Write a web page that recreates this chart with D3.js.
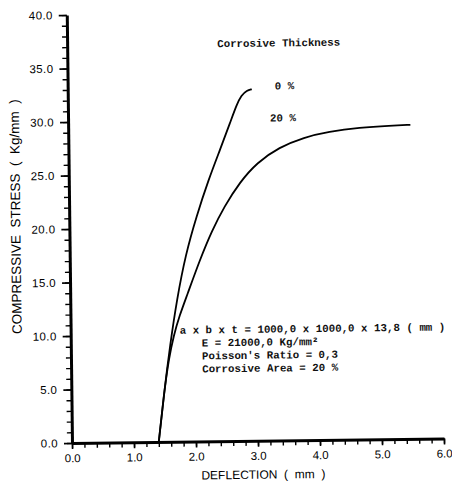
<!DOCTYPE html>
<html>
<head>
<meta charset="utf-8">
<script src="https://cdn.jsdelivr.net/npm/d3@7"></script>
<style>
  body { margin: 0; background: #fff; }
  .axis text { font-family: "Liberation Sans", Arial, sans-serif; font-size: 11.5px; fill: #000; }
  .title { font-family: "Liberation Sans", Arial, sans-serif; white-space: pre; fill: #000; }
  .mono { font-family: "Liberation Mono", "Courier New", monospace; font-size: 10.8px; font-weight: bold; fill: #111; white-space: pre; }
</style>
</head>
<body>
<div class="chart"></div>
<script>
// values
const xTicks = [0, 1, 2, 3, 4, 5, 6];
const yTicks = [0, 5, 10, 15, 20, 25, 30, 35, 40];

const defl0 = [1.40, 1.50, 1.60, 1.72, 1.87, 2.05, 2.25, 2.45, 2.62, 2.72, 2.80, 2.89, 2.97];
const stress0 = [0, 4.8, 9.0, 13.3, 17.5, 21.0, 24.4, 27.3, 29.85, 31.4, 32.3, 32.75, 32.85];

const defl20 = [1.40, 1.50, 1.58, 1.66, 1.76, 1.88, 2.10, 2.30, 2.50, 2.76, 3.04, 3.40, 3.80, 4.20, 4.70, 5.20, 5.52];
const stress20 = [0, 4.8, 7.8, 9.9, 11.8, 13.6, 17.0, 19.7, 21.9, 24.2, 26.0, 27.4, 28.3, 28.8, 29.15, 29.3, 29.35];

const seriesLabels = ["0 %", "20 %"];
const notes = [
  "a x b x t = 1000,0 x 1000,0 x 13,8 ( mm )",
  "E = 21000,0 Kg/mm\u00b2",
  "Poisson's Ratio = 0,3",
  "Corrosive Area = 20 %"
];

const W = 452, H = 484;
const svg = d3.select('.chart').append('svg')
    .attr('width', W)
    .attr('height', H);

const x = d3.scaleLinear().domain([0, 6]).range([72, 444]);
const y = d3.scaleLinear().domain([0, 40]).range([443, 15]);

// the scan is slightly tilted
const g = svg.append('g')
    .attr('transform', `rotate(-0.7, ${x(0)}, ${y(0)})`);

// minor ticks
g.append('g')
    .attr('transform', `translate(${x(0)},0)`)
    .call(d3.axisLeft(y).ticks(40).tickSize(5).tickFormat(''))
    .call(a => a.select('.domain').remove())
    .selectAll('line').attr('stroke-width', 1.4);

g.append('g')
    .attr('transform', `translate(0,${y(0)})`)
    .call(d3.axisBottom(x).ticks(30).tickSize(5).tickFormat(''))
    .call(a => a.select('.domain').remove())
    .selectAll('line').attr('stroke-width', 1.4);

// major ticks + labels
const yAxis = g.append('g')
    .attr('class', 'axis')
    .attr('transform', `translate(${x(0)},0)`)
    .call(d3.axisLeft(y).tickValues(yTicks).tickSize(8).tickSizeOuter(0).tickPadding(6).tickFormat(d3.format('.1f')));
yAxis.select('.domain').attr('stroke-width', 3);
yAxis.selectAll('.tick line').attr('stroke-width', 1.6);
yAxis.selectAll('.tick text').attr('font-size', '12px').attr('letter-spacing', '0.4px');

const xAxis = g.append('g')
    .attr('class', 'axis')
    .attr('transform', `translate(0,${y(0)})`)
    .call(d3.axisBottom(x).tickValues(xTicks).tickSize(6).tickSizeOuter(0).tickPadding(5).tickFormat(d3.format('.1f')));
xAxis.select('.domain').attr('stroke-width', 3);
xAxis.selectAll('.tick line').attr('stroke-width', 1.6);

// axis titles
g.append('text')
    .attr('class', 'title')
    .attr('x', 263)
    .attr('y', 481)
    .attr('text-anchor', 'middle')
    .attr('font-size', '12px')
    .text('DEFLECTION  (  mm  )');

g.append('text')
    .attr('class', 'title')
    .attr('transform', 'translate(23,216) rotate(-90)')
    .attr('text-anchor', 'middle')
    .attr('font-size', '13.5px')
    .text('COMPRESSIVE  STRESS  (  Kg/mm  )');

// curves
const line = d3.line()
    .x(d => x(d[0]))
    .y(d => y(d[1]))
    .curve(d3.curveBasis);

const curves = [d3.zip(defl0, stress0), d3.zip(defl20, stress20)];

g.selectAll('path.curve')
    .data(curves)
    .enter()
    .append('path')
    .attr('class', 'curve')
    .attr('d', line)
    .attr('fill', 'none')
    .attr('stroke', '#000')
    .attr('stroke-width', 1.8);

// labels
g.append('text')
    .attr('class', 'mono')
    .attr('x', 222)
    .attr('y', 49)
    .text('Corrosive Thickness');

g.selectAll('text.series')
    .data(seriesLabels)
    .enter()
    .append('text')
    .attr('class', 'mono series')
    .attr('x', (d, i) => i === 0 ? 279 : 274)
    .attr('y', (d, i) => i === 0 ? 92 : 124)
    .text(d => d);

g.selectAll('text.note')
    .data(notes)
    .enter()
    .append('text')
    .attr('class', 'mono note')
    .attr('x', (d, i) => i === 0 ? 181 : 203)
    .attr('y', (d, i) => 335 + i * 13)
    .text(d => d);
</script>
</body>
</html>
